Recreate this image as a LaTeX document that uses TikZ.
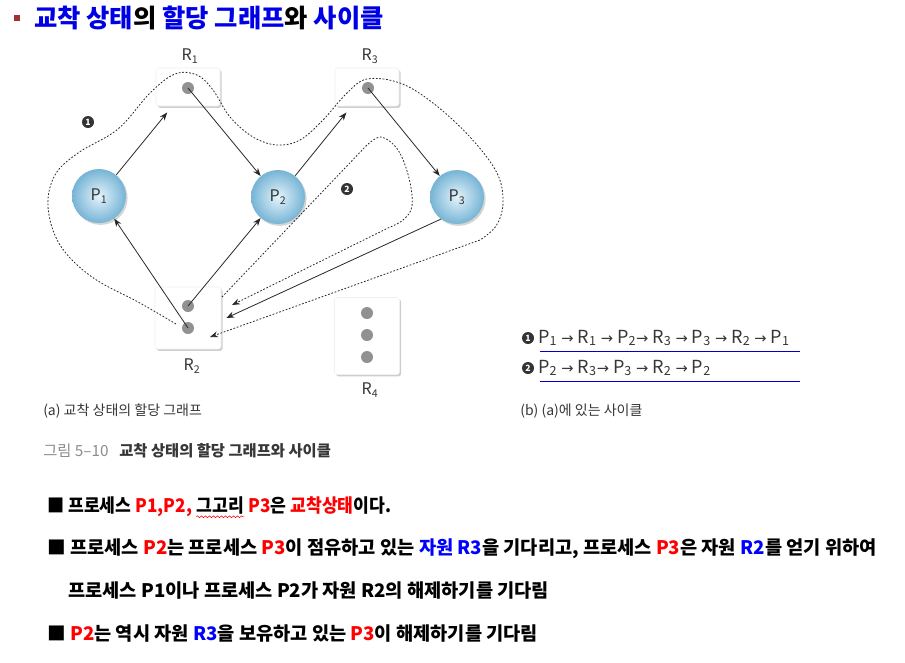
\documentclass[tikz,border=0pt]{standalone}
\usepackage{fontspec}
\setmainfont{Noto Sans CJK KR}
\newfontfamily\krn{Noto Sans CJK KR}[FakeStretch=0.92]
\newfontfamily\dv{DejaVu Sans}
\usetikzlibrary{arrows.meta,shadows,calc,decorations.pathmorphing}
\definecolor{krred}{RGB}{255,0,0}
\definecolor{krblue}{RGB}{0,0,255}
\definecolor{titleblue}{RGB}{0,0,230}
\definecolor{bulletred}{RGB}{160,50,50}
\definecolor{dotgray}{RGB}{145,145,145}
\definecolor{lineg}{RGB}{40,40,40}
\definecolor{labelg}{RGB}{55,55,55}
\definecolor{capg}{RGB}{140,140,140}
\definecolor{ballin}{RGB}{228,243,251}
\definecolor{ballout}{RGB}{118,180,213}
\newcommand{\bul}{\fontsize{14pt}{16pt}\selectfont\bfseries}
\newcommand{\bulA}{\krn\fontsize{14pt}{16pt}\selectfont\bfseries}
\newcommand{\lbl}{\fontsize{10.5pt}{12pt}\selectfont}
\newcommand{\nlbl}{\fontsize{12pt}{14pt}\selectfont}
\newcommand{\cyt}{\fontsize{13.5pt}{15pt}\selectfont}
\newcommand{\ar}{{\dv\fontsize{11pt}{12pt}\selectfont →}}
\begin{document}
\begin{tikzpicture}[x=0.75pt,y=-0.75pt,
  resbox/.style={fill=white, draw=black!6, rounded corners=2pt, inner sep=0,
     drop shadow={shadow xshift=1.2pt, shadow yshift=-1.4pt, opacity=0.35, fill=black!55}},
  proc/.style={circle, minimum size=40.5pt, inner sep=0, inner color=ballin, outer color=ballout,
     drop shadow={shadow xshift=1.2pt, shadow yshift=-1.4pt, opacity=0.3, fill=black!55},
     font=\nlbl, text=labelg},
  rdot/.style={circle, fill=dotgray, minimum size=9pt, inner sep=0},
  arr/.style={draw=lineg, line width=0.6pt, -{Stealth[length=6pt,width=4.5pt]}},
  cyc/.style={draw=lineg, line width=0.6pt, dash pattern=on 1.3pt off 1.3pt, -{Stealth[length=6pt,width=4.5pt]}},
  txt/.style={inner sep=0, anchor=west},
  num/.style={circle, fill=black!80, text=white, inner sep=0, minimum size=9pt, font=\fontsize{6.5pt}{7pt}\selectfont\bfseries},
  rl/.style={inner sep=0, font=\nlbl, text=labelg}
]
\useasboundingbox[fill=white] (0,0) rectangle (905,662);

% title
\node[fill=bulletred, minimum size=5pt, inner sep=0] (tb) at (17,18) {};
\node[txt, font=\fontsize{19pt}{22pt}\selectfont\bfseries] (title) at (34,18)
  {\textcolor{titleblue}{교착 상태}의 \textcolor{titleblue}{할당 그래프}와 \textcolor{titleblue}{사이클}};

% resources
\node[resbox, minimum width=48pt, minimum height=28.5pt] (R1) at (188,87) {};
\node[resbox, minimum width=48pt, minimum height=28.5pt] (R3) at (367,87) {};
\node[resbox, minimum width=49.5pt, minimum height=46.5pt] (R2) at (188,318) {};
\node[resbox, minimum width=48.75pt, minimum height=57.75pt] (R4) at (367,336) {};
\node[rdot] (R1d) at (188,88) {};
\node[rdot] (R3d) at (368,88) {};
\node[rdot] (R2a) at (188,306) {};
\node[rdot] (R2b) at (188,328) {};
\node[rdot] (R4a) at (367,313) {};
\node[rdot] (R4b) at (367,335) {};
\node[rdot] (R4c) at (367,357) {};
\node[rl] (R1l) at (190,56) {R\textsubscript{1}};
\node[rl] (R3l) at (370,56) {R\textsubscript{3}};
\node[rl] (R2l) at (192,366) {R\textsubscript{2}};
\node[rl] (R4l) at (370,390) {R\textsubscript{4}};

% processes
\node[proc] (P1) at (99,196) {P\textsubscript{1}};
\node[proc] (P2) at (278,197) {P\textsubscript{2}};
\node[proc] (P3) at (457,197) {P\textsubscript{3}};

% cycles (dotted)
\coordinate (c1s) at (176,324);
\coordinate (c1e) at (210,337);
\draw[cyc] plot[smooth, tension=0.6] coordinates {(c1s) (140,303) (92,277) (60,245) (48,207) (55,175) (78,153) (118,129) (150,93) (175,74) (197,75) (213,90) (230,117) (253,137) (277,145) (300,140) (323,120) (347,93) (367,79) (400,83) (433,103) (470,137) (497,173) (503,203) (496,226) (480,240)} -- (c1e);
\coordinate (c2s) at (222,297);
\coordinate (c2e) at (232,305);
\draw[cyc] (c2s) -- plot[smooth, tension=0.6] coordinates {(366,146) (381,137) (398,150) (409,178) (412,206) (403,220) (388,228)} -- (c2e);
\node[num] (n1) at (88,122) {1};
\node[num] (n2) at (347,189) {2};

% allocation / request edges
\draw[arr, shorten >=6pt] (P1) -- (R1);
\draw[arr] (R1d.center) -- (P2);
\draw[arr, shorten >=6pt] (P2) -- (R3);
\draw[arr] (R3d.center) -- (P3);
\draw[arr] (P3.234) -- ($(R2.east)+(5,0)$);
\draw[arr] (R2a.center) -- (P2);
\draw[arr] (R2b.center) -- (P1);

% cycles listing
\node[num] (m1) at (528,338) {1};
\node[num] (m2) at (528,368) {2};
\node[txt, font=\cyt, text=labelg] (cy1) at (538,338)
  {P\textsubscript{1} \ar\ R\textsubscript{1} \ar\ P\textsubscript{2}\ar\ R\textsubscript{3} \ar\ P\textsubscript{3} \ar\ R\textsubscript{2} \ar\ P\textsubscript{1}};
\node[txt, font=\cyt, text=labelg] (cy2) at (538,368)
  {P\textsubscript{2} \ar\ R\textsubscript{3}\ar\ P\textsubscript{3} \ar\ R\textsubscript{2} \ar\ P\textsubscript{2}};
\coordinate (u1a) at (540,351); \coordinate (u1b) at (800,351);
\coordinate (u2a) at (540,381); \coordinate (u2b) at (800,381);
\draw[krblue!80!black, line width=0.7pt] (u1a) -- (u1b);
\draw[krblue!80!black, line width=0.7pt] (u2a) -- (u2b);

% captions
\node[txt, font=\lbl, text=labelg] (capa) at (43,411) {(a) 교착 상태의 할당 그래프};
\node[txt, font=\lbl, text=labelg] (capb) at (520,411) {(b) (a)에 있는 사이클};
\node[txt, font=\fontsize{11.5pt}{13pt}\selectfont] (fig) at (43,451) {\textcolor{capg}{그림 5–10}\hspace{8pt}\textcolor{labelg}{\bfseries 교착 상태의 할당 그래프와 사이클}};

% bullets
\node[txt, font=\bulA] (l1a) at (47,507) {■ 프로세스 \textcolor{krred}{P1,P2,}};
\node[inner sep=0, font=\bulA, anchor=base west] (l1b) at ($(l1a.base east)+(4,0)$) {그고리};
\node[inner sep=0, font=\bulA, anchor=base west] (l1c) at ($(l1b.base east)+(4,0)$) {\textcolor{krred}{P3}은 \textcolor{krred}{교착상태}이다.};
\draw[krred, line width=0.4pt, decorate, decoration={snake, amplitude=0.7pt, segment length=3pt}] ($(l1b.base west)+(0,4)$) -- ($(l1b.base east)+(0,4)$);
\node[txt, font=\bul] (l2) at (47,549) {■ 프로세스 \textcolor{krred}{P2}는 프로세스 \textcolor{krred}{P3}이 점유하고 있는 \textcolor{krblue}{자원 R3}을 기다리고, 프로세스 \textcolor{krred}{P3}은 자원 \textcolor{krblue}{R2}를 얻기 위하여};
\node[txt, font=\bul] (l3) at (68,591) {프로세스 P1이나 프로세스 P2가 자원 R2의 해제하기를 기다림};
\node[txt, font=\bul] (l4) at (47,633) {■ \textcolor{krred}{P2}는 역시 자원 \textcolor{krblue}{R3}을 보유하고 있는 \textcolor{krred}{P3}이 해제하기를 기다림};
\end{tikzpicture}
\end{document}
